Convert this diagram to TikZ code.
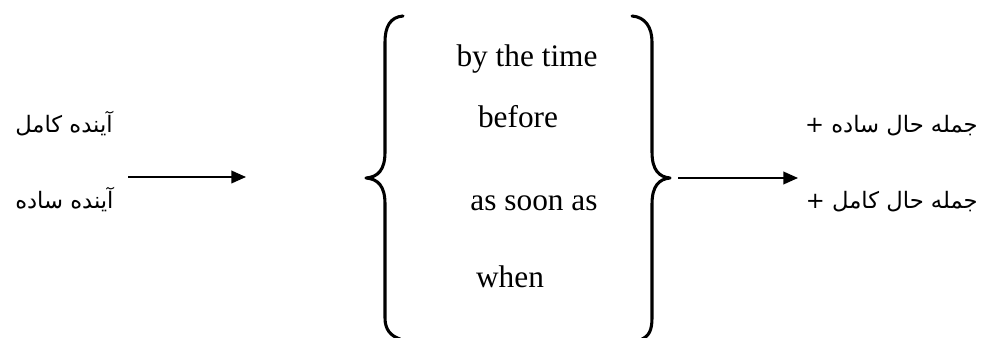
\documentclass[tikz,border=0pt]{standalone}
\usepackage{fontspec}
\setmainfont{Liberation Serif}
\newfontfamily\arabicfont[Script=Arabic]{DejaVu Sans}
\TeXXeTstate=1
\usetikzlibrary{arrows.meta}
\begin{document}
\begin{tikzpicture}[x=0.75pt,y=-0.75pt,
  brace/.style={line width=2.3pt,line cap=round,line join=round},
  arr/.style={line width=1.3pt,-{Triangle[length=11pt,width=9.5pt]}},
  eng/.style={font=\fontsize{23.5}{28}\selectfont,anchor=base,inner sep=0pt},
  fa/.style={font=\arabicfont\fontsize{17}{22}\selectfont,anchor=base,inner sep=0pt}]
\useasboundingbox (0,0) rectangle (987,338);
% left brace
\draw[brace] (403,16) .. controls (390,17) and (385,27) .. (385,42) -- (385,152)
  .. controls (385,170) and (378,177) .. (366,178)
  .. controls (378,179) and (385,186) .. (385,204) -- (385,318)
  .. controls (385,330) and (391,336) .. (400,339);
% right brace
\draw[brace] (632,16) .. controls (645,17) and (652,27) .. (652,42) -- (652,152)
  .. controls (652,170) and (659,177) .. (670,178)
  .. controls (659,179) and (652,186) .. (652,204) -- (652,318)
  .. controls (652,330) and (649,336) .. (642,339);
\coordinate (rtip) at (678,178);
\coordinate (rend) at (798,178);
\coordinate (lbeg) at (128,177);
\coordinate (lend) at (246,177);
\draw[arr] (lbeg) -- (lend);
\draw[arr] (rtip) -- (rend);
% English
\node[eng] (t1) at (527,67) {by the time};
\node[eng] (t2) at (518,128) {before};
\node[eng] (t3) at (534,210) {as soon as};
\node[eng] (t4) at (510,287) {when};
% Persian
\node[fa,anchor=base west] (p1) at (15,133) {\beginR آینده کامل\endR};
\node[fa,anchor=base west] (p2) at (15,209) {\beginR آینده ساده\endR};
\node[fa,anchor=base east] (p3) at (978,133) {\beginR جمله حال ساده +\endR};
\node[fa,anchor=base east] (p4) at (978,209) {\beginR جمله حال کامل +\endR};
\end{tikzpicture}
\end{document}
